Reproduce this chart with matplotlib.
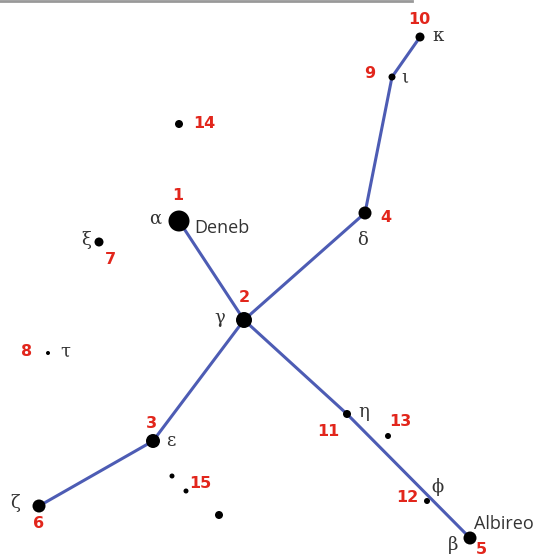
import matplotlib.pyplot as plt

# star positions (image pixels), marker radius (px)
star_ids = [1, 2, 3, 4, 5, 6, 7, 8, 9, 10, 11, 12, 13, 14, 15, None, None]
star_x = [179, 244, 153, 365, 470, 39, 99, 48, 392, 420, 347, 427, 388, 179, 186, 172, 219]
star_y = [221, 320, 441, 213, 538, 506, 242, 353, 77, 37, 414, 501, 436, 124, 491, 476, 515]
star_r = [10.5, 8, 7, 6.5, 6.5, 6.5, 4.5, 2, 3.5, 4.5, 4, 3, 3, 4, 2.5, 2.5, 4]

# constellation lines (by star number)
links = [(1, 2), (2, 4), (4, 9), (9, 10), (2, 3), (3, 6), (2, 11), (11, 5)]

# number label positions
num_labels = ["1", "2", "3", "4", "5", "6", "7", "8", "9", "10", "11", "12", "13", "14", "15"]
num_x = [178, 244, 151, 386, 481, 39, 110, 27, 370, 419, 328, 407, 400, 204, 200]
num_y = [196, 297, 423, 218, 550, 524, 260, 352, 73, 19, 431, 497, 422, 124, 483]

# greek letters
greek = ["α", "γ", "ε", "δ", "β", "ζ", "ξ", "τ", "ι", "κ", "η", "ϕ"]
greek_x = [155, 220, 171, 363, 453, 15, 86, 65, 405, 438, 364, 437]
greek_y = [219, 318, 441, 240, 545, 503, 240, 352, 78, 36, 412, 487]

names = ["Deneb", "Albireo"]
name_x = [194, 474]
name_y = [228, 524]

fig = plt.figure(figsize=(5.4, 5.56), dpi=100)
ax = fig.add_axes([0, 0, 1, 1])
ax.set_xlim(0, 540)
ax.set_ylim(556, 0)
ax.axis("off")

# grey rule at top
ax.plot([0, 412], [0.8, 0.8], color="#999999", lw=2)

for a, b in links:
    ax.plot([star_x[a - 1], star_x[b - 1]], [star_y[a - 1], star_y[b - 1]],
            color="#4d5cb4", lw=2.2, zorder=1, solid_capstyle="round")

sizes = [(2 * r * 0.72) ** 2 for r in star_r]
ax.scatter(star_x, star_y, s=sizes, color="black", zorder=3, linewidths=0)

for t, x, y in zip(num_labels, num_x, num_y):
    ax.text(x, y, t, color="#e2261c", fontsize=11.5, fontweight="heavy",
            ha="center", va="center", family="DejaVu Sans")

for t, x, y in zip(greek, greek_x, greek_y):
    ax.text(x, y, t, color="#333333", fontsize=13, ha="center", va="center",
            family="DejaVu Serif")

for t, x, y in zip(names, name_x, name_y):
    ax.text(x, y, t, color="#333333", fontsize=13, ha="left", va="center",
            family="Open Sans")

fig.savefig("out.png", dpi=100)
